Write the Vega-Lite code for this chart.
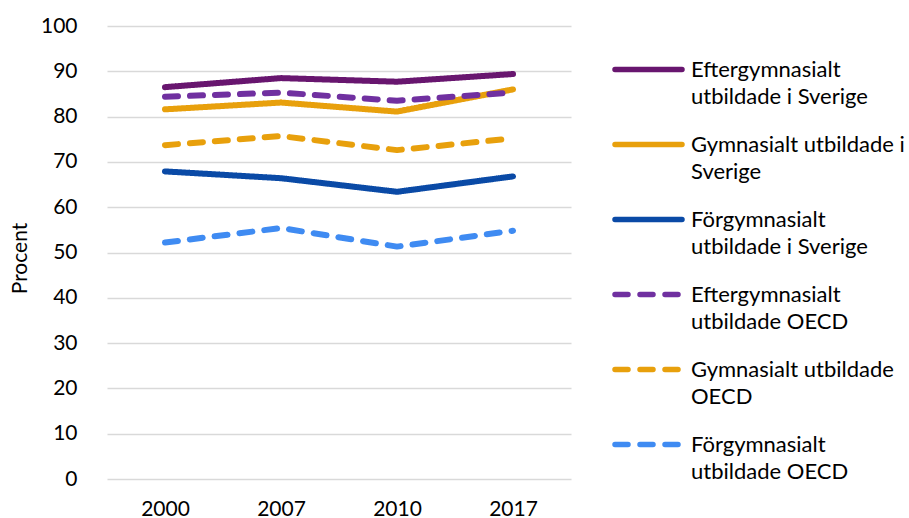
{
  "$schema": "https://vega.github.io/schema/vega-lite/v6.json",
  "autosize": "none",
  "width": 464,
  "height": 453,
  "padding": {"left": 107, "top": 26, "right": 338, "bottom": 39},
  "background": "white",
  "config": {
    "font": "Lato",
    "view": {"stroke": null}
  },
  "data": {
    "values": [
      {"year": "2000", "series": "Eftergymnasialt utbildade i Sverige", "value": 86.5},
      {"year": "2007", "series": "Eftergymnasialt utbildade i Sverige", "value": 88.5},
      {"year": "2010", "series": "Eftergymnasialt utbildade i Sverige", "value": 87.7},
      {"year": "2017", "series": "Eftergymnasialt utbildade i Sverige", "value": 89.4},
      {"year": "2000", "series": "Gymnasialt utbildade i Sverige", "value": 81.6},
      {"year": "2007", "series": "Gymnasialt utbildade i Sverige", "value": 83.1},
      {"year": "2010", "series": "Gymnasialt utbildade i Sverige", "value": 81.1},
      {"year": "2017", "series": "Gymnasialt utbildade i Sverige", "value": 86.0},
      {"year": "2000", "series": "Förgymnasialt utbildade i Sverige", "value": 67.9},
      {"year": "2007", "series": "Förgymnasialt utbildade i Sverige", "value": 66.4},
      {"year": "2010", "series": "Förgymnasialt utbildade i Sverige", "value": 63.4},
      {"year": "2017", "series": "Förgymnasialt utbildade i Sverige", "value": 66.8},
      {"year": "2000", "series": "Eftergymnasialt utbildade OECD", "value": 84.4},
      {"year": "2007", "series": "Eftergymnasialt utbildade OECD", "value": 85.3},
      {"year": "2010", "series": "Eftergymnasialt utbildade OECD", "value": 83.5},
      {"year": "2017", "series": "Eftergymnasialt utbildade OECD", "value": 85.3},
      {"year": "2000", "series": "Gymnasialt utbildade OECD", "value": 73.7},
      {"year": "2007", "series": "Gymnasialt utbildade OECD", "value": 75.7},
      {"year": "2010", "series": "Gymnasialt utbildade OECD", "value": 72.6},
      {"year": "2017", "series": "Gymnasialt utbildade OECD", "value": 75.2},
      {"year": "2000", "series": "Förgymnasialt utbildade OECD", "value": 52.2},
      {"year": "2007", "series": "Förgymnasialt utbildade OECD", "value": 55.4},
      {"year": "2010", "series": "Förgymnasialt utbildade OECD", "value": 51.3},
      {"year": "2017", "series": "Förgymnasialt utbildade OECD", "value": 54.8}
    ]
  },
  "mark": {"type": "line", "strokeWidth": 6, "strokeCap": "round", "strokeJoin": "round"},
  "encoding": {
    "x": {
      "field": "year", "type": "ordinal",
      "scale": {"type": "point", "padding": 0.5},
      "axis": {
        "title": null, "labelAngle": 0, "domain": false, "ticks": false,
        "labelFontSize": 21, "labelColor": "#000000", "labelPadding": 19, "grid": false
      }
    },
    "y": {
      "field": "value", "type": "quantitative",
      "scale": {"domain": [0, 100], "nice": false},
      "axis": {
        "title": "Procent", "values": [0,10,20,30,40,50,60,70,80,90,100],
        "domain": false, "ticks": false, "grid": true, "gridColor": "#d9d9d9", "gridWidth": 1.3,
        "labelFontSize": 21, "labelColor": "#000000", "labelPadding": 30,
        "titleFontSize": 21, "titleFontWeight": "normal", "titleColor": "#000000",
        "titleX": -87, "titleY": 232, "titleBaseline": "middle", "titleAlign": "center", "titleAngle": -90
      }
    },
    "color": {
      "field": "series", "type": "nominal",
      "sort": ["Eftergymnasialt utbildade i Sverige", "Gymnasialt utbildade i Sverige", "Förgymnasialt utbildade i Sverige", "Eftergymnasialt utbildade OECD", "Gymnasialt utbildade OECD", "Förgymnasialt utbildade OECD"],
      "scale": {
        "domain": ["Eftergymnasialt utbildade i Sverige", "Gymnasialt utbildade i Sverige", "Förgymnasialt utbildade i Sverige", "Eftergymnasialt utbildade OECD", "Gymnasialt utbildade OECD", "Förgymnasialt utbildade OECD"],
        "range": ["#68166F", "#E8A00C", "#0A4AA6", "#7030A0", "#E8A00C", "#3F8BF2"]
      },
      "legend": {
        "title": null, "orient": "none", "legendX": 505, "legendY": 7,
        "symbolType": "stroke", "symbolSize": 4489, "symbolStrokeWidth": 5.5,
        "labelFontSize": 22, "labelColor": "#000000",
        "labelBaseline": "middle", "labelOffset": 6, "labelLimit": 400,
        "rowPadding": 0,
        "encode": {
          "labels": {"update": {"lineHeight": {"value": 27.5}}},
          "symbols": {"update": {"strokeCap": {"value": "round"}}}
        },
        "labelExpr": "datum.label == 'Eftergymnasialt utbildade i Sverige' ? ['Eftergymnasialt', 'utbildade i Sverige'] : datum.label == 'Gymnasialt utbildade i Sverige' ? ['Gymnasialt utbildade i', 'Sverige'] : datum.label == 'Förgymnasialt utbildade i Sverige' ? ['Förgymnasialt', 'utbildade i Sverige'] : datum.label == 'Eftergymnasialt utbildade OECD' ? ['Eftergymnasialt', 'utbildade OECD'] : datum.label == 'Gymnasialt utbildade OECD' ? ['Gymnasialt utbildade', 'OECD'] : ['Förgymnasialt', 'utbildade OECD']"
      }
    },
    "strokeDash": {
      "field": "series", "type": "nominal",
      "sort": ["Eftergymnasialt utbildade i Sverige", "Gymnasialt utbildade i Sverige", "Förgymnasialt utbildade i Sverige", "Eftergymnasialt utbildade OECD", "Gymnasialt utbildade OECD", "Förgymnasialt utbildade OECD"],
      "scale": {
        "domain": ["Eftergymnasialt utbildade i Sverige", "Gymnasialt utbildade i Sverige", "Förgymnasialt utbildade i Sverige", "Eftergymnasialt utbildade OECD", "Gymnasialt utbildade OECD", "Förgymnasialt utbildade OECD"],
        "range": [[1, 0], [1, 0], [1, 0], [13, 12], [13, 12], [13, 12]]
      },
      "legend": null
    }
  }
}
